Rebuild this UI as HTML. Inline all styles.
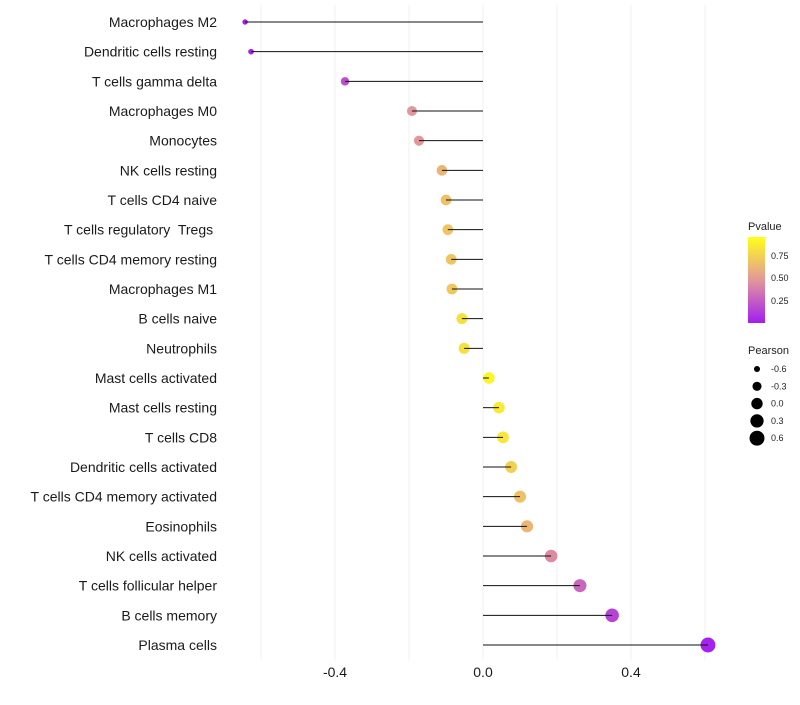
<!DOCTYPE html>
<html><head><meta charset="utf-8"><style>
body{margin:0;background:#fff;font-family:"Liberation Sans",sans-serif}
text{white-space:pre}
</style></head><body>
<svg id="c" width="800" height="700" xmlns="http://www.w3.org/2000/svg">
<defs><linearGradient id="pg" x1="0" y1="1" x2="0" y2="0">
<stop offset="0" stop-color="#a31ef0"/><stop offset="0.5" stop-color="#e2979a"/><stop offset="1" stop-color="#ffff1a"/>
</linearGradient></defs>
<g id="grid"></g>
<g id="dots"></g>
<g id="marks"></g>
<g id="labels"></g>
<g id="xt"></g>
<g font-size="9" fill="#222">
<text x="748" y="230" font-size="11">Pvalue</text>
<rect x="748" y="237" width="17" height="86" fill="url(#pg)"/>
<text x="771" y="259">0.75</text>
<text x="771" y="281">0.50</text>
<text x="771" y="304">0.25</text>
</g>
<g id="sl" font-size="9" fill="#222">
<text x="748" y="354" font-size="11">Pearson</text>
</g>
</svg>
<script>
const categories=["Macrophages M2","Dendritic cells resting","T cells gamma delta","Macrophages M0","Monocytes","NK cells resting","T cells CD4 naive","T cells regulatory  Tregs ","T cells CD4 memory resting","Macrophages M1","B cells naive","Neutrophils","Mast cells activated","Mast cells resting","T cells CD8","Dendritic cells activated","T cells CD4 memory activated","Eosinophils","NK cells activated","T cells follicular helper","B cells memory","Plasma cells"];
const pearson=[-0.643,-0.627,-0.373,-0.192,-0.173,-0.111,-0.1,-0.095,-0.086,-0.084,-0.057,-0.051,0.016,0.043,0.054,0.076,0.1,0.119,0.184,0.262,0.349,0.608];
const pvalue=[0.01,0.02,0.2,0.5,0.5,0.65,0.7,0.72,0.72,0.73,0.85,0.85,0.95,0.9,0.88,0.78,0.7,0.65,0.45,0.3,0.15,0.02];
const xTicks=[-0.4,0,0.4];
const gridVals=[-0.6,-0.4,-0.2,0,0.2,0.4,0.6];
const legendVals=[-0.6,-0.3,0,0.3,0.6];
const NS="http://www.w3.org/2000/svg";
const x=v=>483+370*v;
const y=i=>22+i*(623/21);
const r=v=>Math.sqrt(Math.max(4,32.4+38.75*v));
function lerp(a,b,t){return a.map((c,k)=>Math.round(c+(b[k]-c)*t));}
function col(p){const A=[163,30,240],M=[226,151,154],B=[255,255,26];
 const c=p<0.5?lerp(A,M,p/0.5):lerp(M,B,(p-0.5)/0.5);return `rgb(${c})`;}
function mk(t,a,parent){const e=document.createElementNS(NS,t);for(const k in a)e.setAttribute(k,a[k]);parent.appendChild(e);return e;}
const G=document.getElementById('grid'),D=document.getElementById('dots'),Mk=document.getElementById('marks'),L=document.getElementById('labels'),XT=document.getElementById('xt'),SL=document.getElementById('sl');
gridVals.forEach(v=>{const e=mk('line',{x1:x(v),x2:x(v),y1:5,y2:660,stroke:'#f0f0f0','stroke-width':1},G);

});
categories.forEach((c,i)=>{
 const d=mk('circle',{cx:x(pearson[i]),cy:y(i),r:r(pearson[i]),fill:col(pvalue[i])},D);
 
 
 const ln=mk('line',{x1:x(0),x2:x(pearson[i]),y1:y(i),y2:y(i),stroke:'#111','stroke-width':1},Mk);
 
 
 const t=mk('text',{x:217,y:y(i)+5,'text-anchor':'end','font-size':14,fill:'#1a1a1a'},L);t.textContent=c;
 
 
});
xTicks.forEach(v=>{const t=mk('text',{x:x(v),y:677,'text-anchor':'middle','font-size':14,fill:'#1a1a1a'},XT);t.textContent=v===0?'0.0':v.toFixed(1);

});
legendVals.forEach((v,i)=>{const cy=369+i*17.3;
 const d=mk('circle',{cx:757,cy:cy,r:r(v),fill:'#000'},SL);
 
 
 const t=mk('text',{x:771,y:cy+3},SL);t.textContent=v.toFixed(1);
 
 });
</script>
</body></html>
